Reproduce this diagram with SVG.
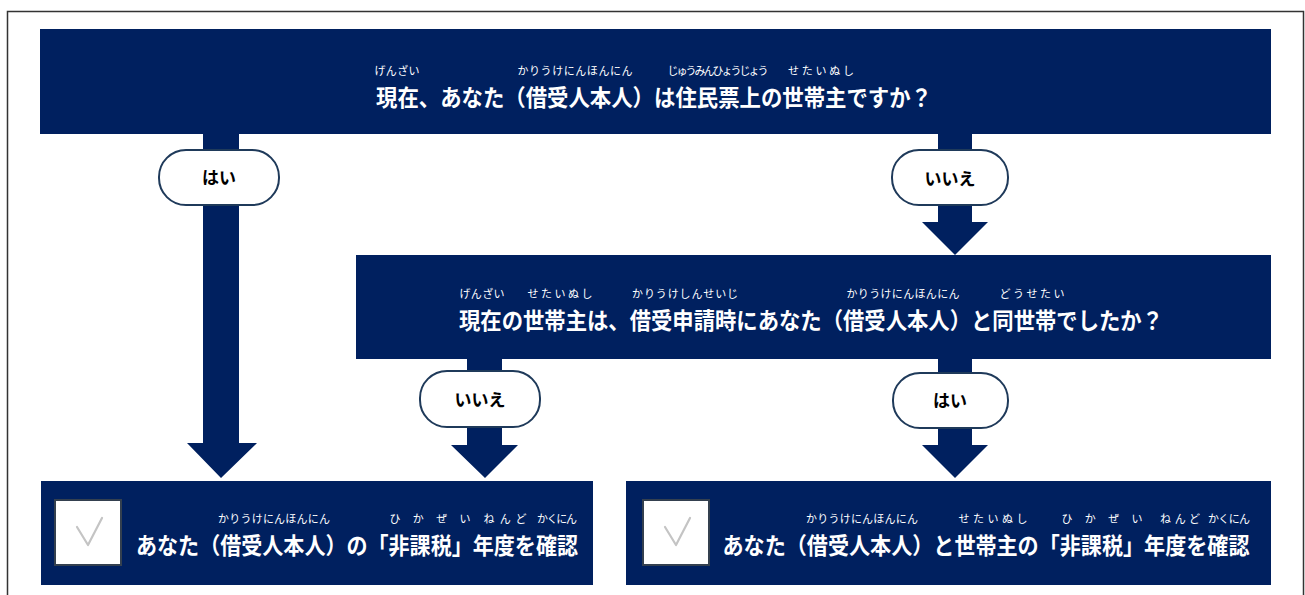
<svg xmlns="http://www.w3.org/2000/svg" width="1305" height="595" viewBox="0 0 1305 595">
<style>
.box{fill:#00205f}
.arr{fill:#00205f}
.pill{fill:#ffffff;stroke:#1f3a5a;stroke-width:2}
.pt{font-family:"Noto Sans CJK JP","Noto Sans",sans-serif;font-weight:bold;font-size:17px;fill:#000;text-anchor:middle}
.mt{font-family:"Noto Sans CJK JP","Noto Sans",sans-serif;font-weight:bold;font-size:23px;fill:#fff;text-anchor:middle}
.rb{font-family:"Noto Sans CJK JP","Noto Sans",sans-serif;font-size:11px;fill:#fff;text-anchor:middle}
.cb{fill:#fff;stroke:#34404f;stroke-width:2}
.ck{fill:none;stroke:#c4c4c4;stroke-width:2.2;stroke-linecap:round;stroke-linejoin:round}
</style>
<rect x="0" y="0" width="1305" height="595" fill="#fff"/>
<rect x="7.5" y="11.5" width="1296" height="620" fill="none" stroke="#333" stroke-width="1.5"/>

<g id="connectors">
  <polygon class="arr" points="203,134 239,134 239,443 257,443 221,478 187,443 203,443"/>
  <polygon class="arr" points="938,134 972,134 972,222 988,222 955,255 922,222 938,222"/>
  <polygon class="arr" points="467,359 502,359 502,445 518,445 485,478 451,445 467,445"/>
  <polygon class="arr" points="938,359 972,359 972,445 988,445 955,478 922,445 938,445"/>
</g>

<g id="label-yes-1">
  <rect class="pill" x="159" y="150" width="120" height="55" rx="27"/>
  <text class="pt" x="219" y="184">はい</text>
</g>
<g id="label-no-1">
  <rect class="pill" x="892" y="150" width="116" height="55" rx="27"/>
  <text class="pt" x="950" y="185">いいえ</text>
</g>
<g id="label-no-2">
  <rect class="pill" x="420" y="371" width="120" height="56" rx="27"/>
  <text class="pt" x="480" y="406">いいえ</text>
</g>
<g id="label-yes-2">
  <rect class="pill" x="893" y="373" width="115" height="55" rx="27"/>
  <text class="pt" x="950" y="407">はい</text>
</g>

<g id="q1">
  <rect class="box" x="40" y="29" width="1231" height="105"/>
  <text class="mt" x="654" y="106" textLength="556" lengthAdjust="spacingAndGlyphs">現在、あなた（借受人本人）は住民票上の世帯主ですか？</text>
  <text class="rb" x="397" y="75" textLength="45">げんざい</text>
  <text class="rb" x="575" y="75" textLength="115">かりうけにんほんにん</text>
  <text class="rb" x="718" y="75" textLength="101">じゅうみんひょうじょう</text>
  <text class="rb" x="821" y="75" textLength="66">せたいぬし</text>
</g>

<g id="q2">
  <rect class="box" x="356" y="255" width="915" height="104"/>
  <text class="mt" x="811" y="329" textLength="704" lengthAdjust="spacingAndGlyphs">現在の世帯主は、借受申請時にあなた（借受人本人）と同世帯でしたか？</text>
  <text class="rb" x="482" y="298" textLength="45">げんざい</text>
  <text class="rb" x="560" y="298" textLength="65">せたいぬし</text>
  <text class="rb" x="685" y="298" textLength="106">かりうけしんせいじ</text>
  <text class="rb" x="903" y="298" textLength="113">かりうけにんほんにん</text>
  <text class="rb" x="1032" y="298" textLength="65">どうせたい</text>
</g>

<g id="r1">
  <rect class="box" x="41" y="481" width="552" height="104"/>
  <rect class="cb" x="55" y="500" width="66" height="65"/>
  <polyline class="ck" points="77,527 88,545 102,518"/>
  <text class="mt" x="357" y="554" textLength="442" lengthAdjust="spacingAndGlyphs">あなた（借受人本人）の「非課税」年度を確認</text>
  <text class="rb" x="274" y="523" textLength="112">かりうけにんほんにん</text>
  <text class="rb" x="430" y="523" textLength="81">ひかぜい</text>
  <text class="rb" x="505" y="523" textLength="43">ねんど</text>
  <text class="rb" x="557" y="523" textLength="40">かくにん</text>
</g>

<g id="r2">
  <rect class="box" x="626" y="481" width="645" height="104"/>
  <rect class="cb" x="643" y="500" width="66" height="65"/>
  <polyline class="ck" points="665,527 676,545 690,518"/>
  <text class="mt" x="986" y="554" textLength="527" lengthAdjust="spacingAndGlyphs">あなた（借受人本人）と世帯主の「非課税」年度を確認</text>
  <text class="rb" x="862" y="523" textLength="112">かりうけにんほんにん</text>
  <text class="rb" x="993" y="523" textLength="69">せたいぬし</text>
  <text class="rb" x="1102" y="523" textLength="81">ひかぜい</text>
  <text class="rb" x="1180" y="523" textLength="40">ねんど</text>
  <text class="rb" x="1229" y="523" textLength="42">かくにん</text>
</g>
</svg>
